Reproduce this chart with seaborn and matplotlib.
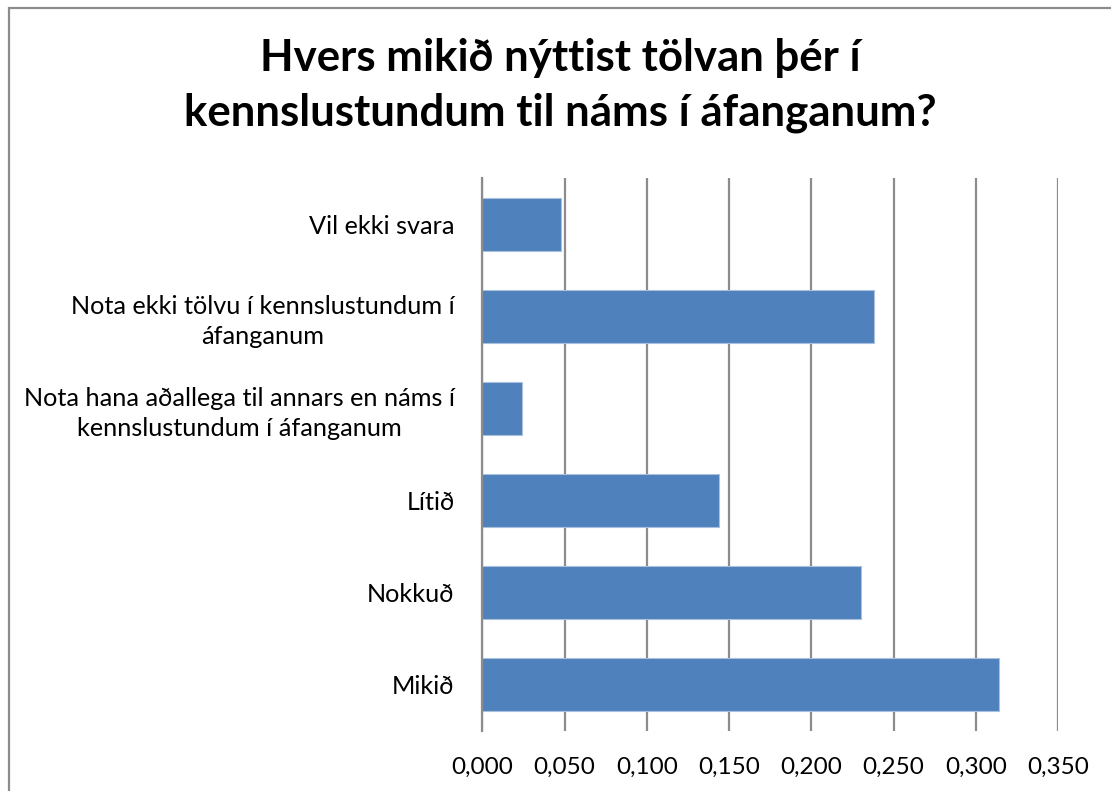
import matplotlib
matplotlib.use("Agg")
import matplotlib.pyplot as plt
import seaborn as sns
import pandas as pd
from matplotlib.patches import Rectangle
from matplotlib.ticker import FixedLocator, FuncFormatter

categories = [
    "Vil ekki svara",
    "Nota ekki tölvu í kennslustundum í\náfanganum",
    "Nota hana aðallega til annars en náms í\nkennslustundum í áfanganum",
    "Lítið",
    "Nokkuð",
    "Mikið",
]
values = [0.048, 0.238, 0.024, 0.144, 0.230, 0.314]
xticks = [0.0, 0.05, 0.10, 0.15, 0.20, 0.25, 0.30, 0.35]
title = "Hvers mikið nýttist tölvan þér í\nkennslustundum til náms í áfanganum?"

sns.set_theme(style="white")
plt.rcParams["font.family"] = ["Lato", "DejaVu Sans"]
plt.rcParams["text.color"] = "black"
plt.rcParams["xtick.color"] = "black"
plt.rcParams["ytick.color"] = "black"

df = pd.DataFrame({"cat": categories, "val": values})

fig = plt.figure(figsize=(11.11, 7.91), dpi=100)
fig.patch.set_facecolor("white")
ax = fig.add_axes([482.3 / 1111, (791 - 730.7) / 791, 575.7 / 1111, 552.4 / 791])

sns.barplot(data=df, y="cat", x="val", orient="h", color="#4F81BD",
            saturation=1, width=0.57, ax=ax, edgecolor="#A9C0DF", linewidth=0.8)

ax.set_xlim(0, 0.35)
ax.set_ylim(5.5, -0.5)
ax.xaxis.set_major_locator(FixedLocator(xticks))
ax.xaxis.set_major_formatter(FuncFormatter(lambda v, p: f"{v:.3f}".replace(".", ",")))
ax.grid(axis="x", color="#8C8C8C", linewidth=1.6)
ax.set_axisbelow(True)
for s in ["top", "right", "bottom"]:
    ax.spines[s].set_visible(False)
ax.spines["left"].set_color("#8C8C8C")
ax.spines["left"].set_linewidth(1.6)
ax.set_xlabel("")
ax.set_ylabel("")
ax.tick_params(axis="x", length=0, pad=19, labelsize=17.5, labelcolor="black")
ax.tick_params(axis="y", length=0, pad=20, labelsize=18.2, labelcolor="black")
for lbl in ax.get_yticklabels():
    lbl.set_multialignment("center")
    lbl.set_linespacing(1.35)

fig.text(0.504, 1 - 38 / 791, title, ha="center", va="top", fontsize=31.5,
         fontweight="bold", linespacing=1.45, color="black")

fig.patches.append(Rectangle((8.5 / 1111, -0.05), 1.2, 1 - 7.5 / 791 + 0.05,
                             transform=fig.transFigure, fill=False,
                             edgecolor="#8C8C8C", linewidth=1.6, zorder=-1))

fig.savefig("out.png", dpi=100)
